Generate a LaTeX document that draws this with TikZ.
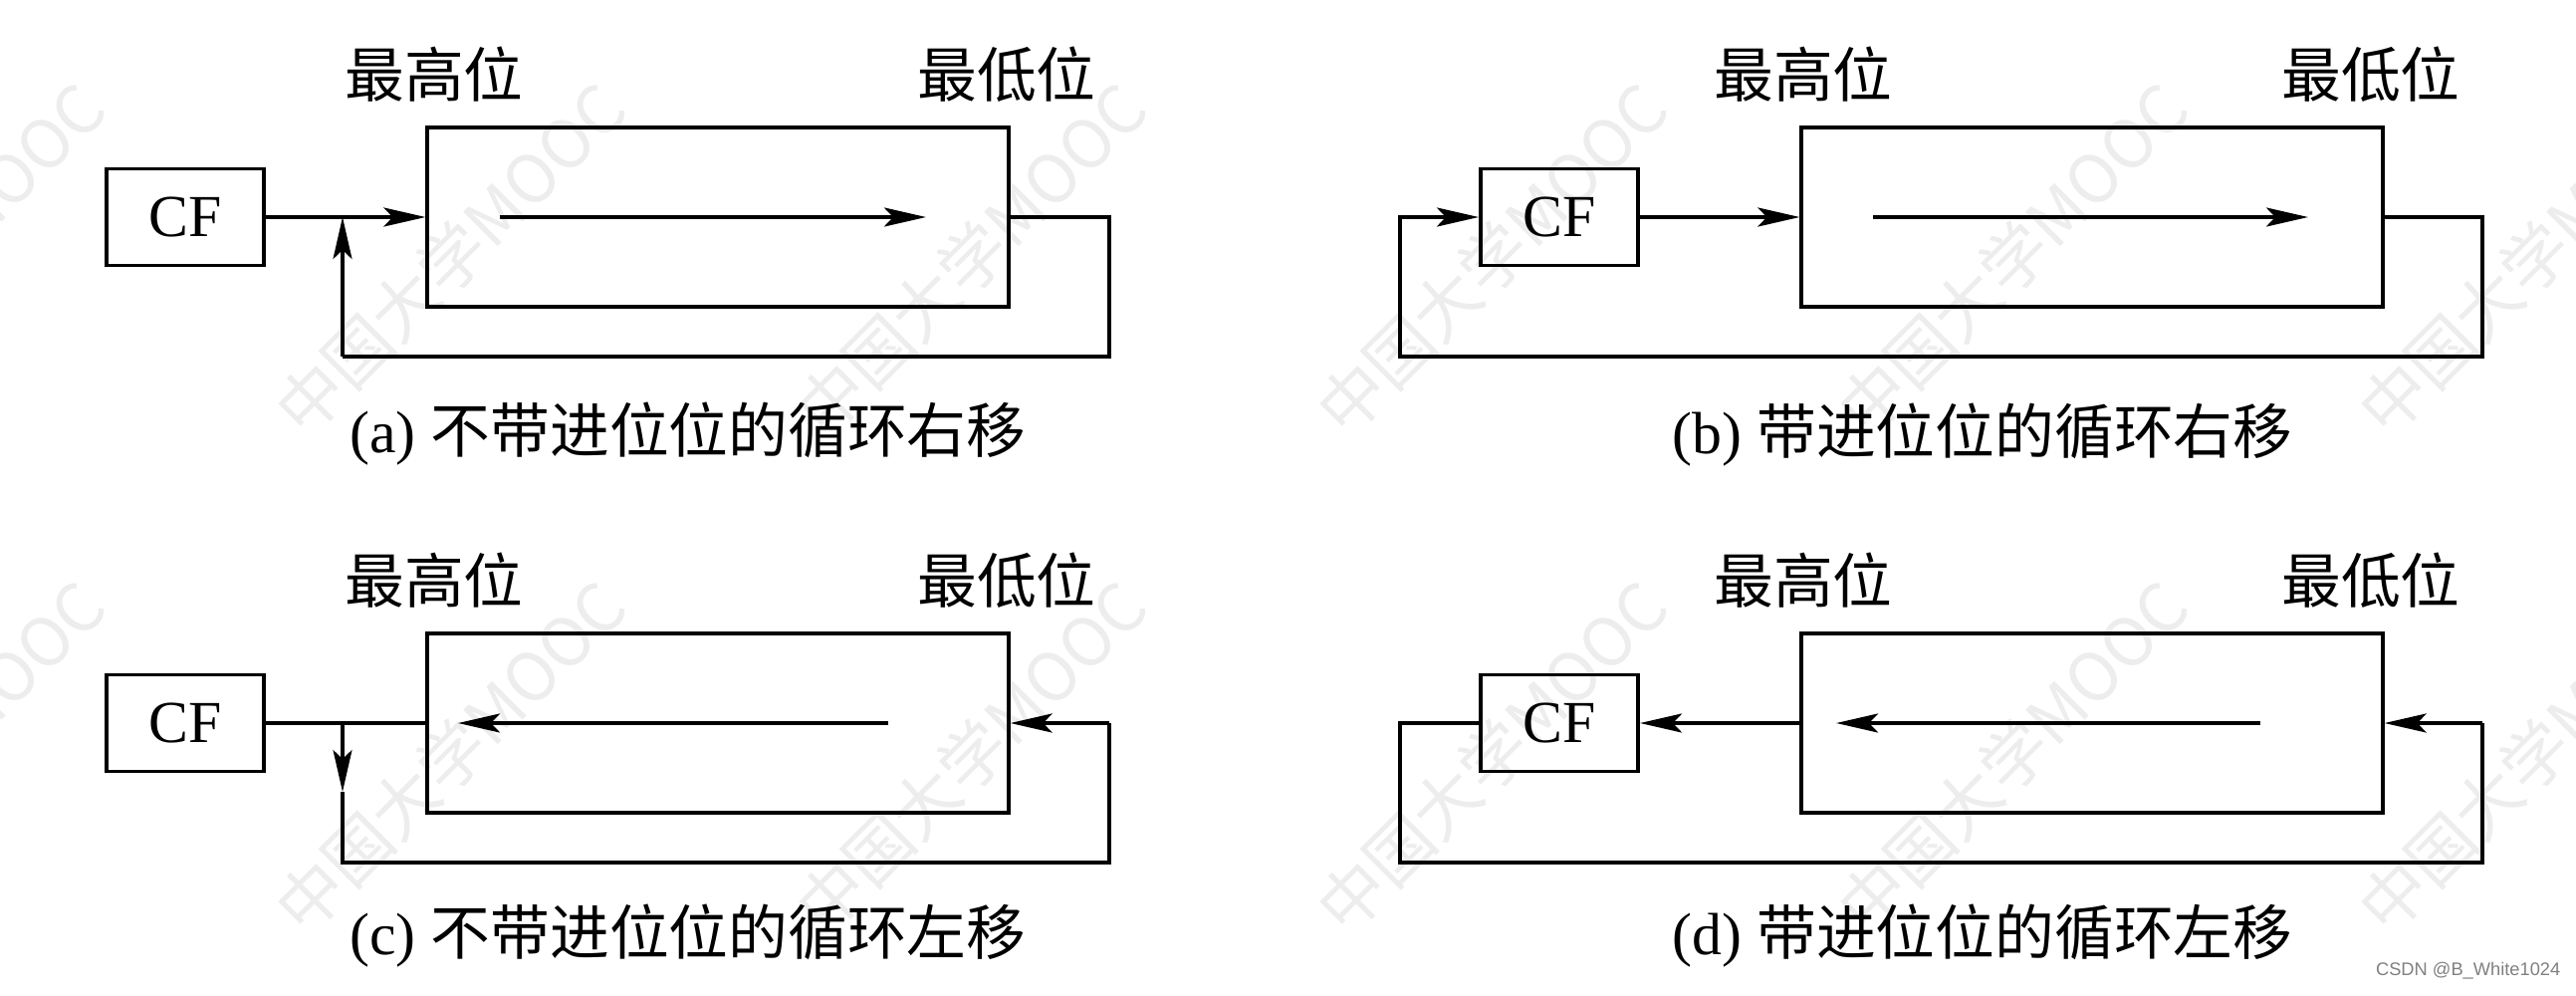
\documentclass[tikz,border=0pt]{standalone}
\usepackage{fontspec}
\setmainfont{Liberation Serif}
\newfontfamily\cjk{Noto Sans CJK SC}
\newfontfamily\csdnfont{Liberation Sans}
\usetikzlibrary{arrows.meta}
\tikzset{
  cfbox/.style={draw, line width=1.1pt, minimum width=1.58cm, minimum height=0.97cm, inner sep=0pt,
    font=\fontsize{17pt}{17pt}\selectfont},
  regbox/.style={draw, line width=1.1pt, minimum width=5.83cm, minimum height=1.80cm, inner sep=0pt},
  lab/.style={inner sep=0pt, font=\cjk\fontsize{17pt}{17pt}\selectfont},
  captext/.style={inner sep=0pt, font=\fontsize{17pt}{17pt}\selectfont},
  conn/.style={line width=1.1pt},
  thinconn/.style={line width=0.9pt},
  arr/.style={-{Stealth[length=0.42cm,width=0.19cm,inset=0.09cm]}},
  wm/.style={inner sep=0pt, rotate=45, text=black!7, font=\cjk\fontsize{19pt}{19pt}\selectfont},
  csdn/.style={inner sep=0pt, text=black!50, font=\csdnfont\fontsize{5.2pt}{5.2pt}\selectfont}
}
\begin{document}
\begin{tikzpicture}[x=0.01cm, y=-0.01cm]
\useasboundingbox (0,0) rectangle (2587,1000);
\fill[white] (0,0) rectangle (2587,1000);
% watermarks
\foreach \wx [count=\i] in {-71,452,975,1498,2021,2544}
  \foreach \wy [count=\j] in {260,760}
    \node[wm] (wm\i\j) at (\wx,\wy) {中国大学MOOC};

% ---------- (a) ----------
\node[cfbox] (cfA) at (186,218) {CF};
\node[regbox] (regA) at (721,218) {};
\node[lab] (hiA) at (436,75) {最高位};
\node[lab] (loA) at (1011,75) {最低位};
\coordinate (jA) at (344,218);
\coordinate (rA1) at (1114,218);
\coordinate (rA2) at (1114,358);
\coordinate (bA) at (344,358);
\coordinate (iA1) at (502,218);
\coordinate (iA2) at (930,218);
\draw[conn,arr] (cfA.east) -- (regA.west);
\draw[conn] (regA.east) -- (rA1) -- (rA2) -- (bA);
\draw[thinconn,arr] (bA) -- (jA);
\draw[conn,arr] (iA1) -- (iA2);
\node[captext] (capA) at (691,436) {(a) {\cjk 不带进位位的循环右移}};

% ---------- (b) ----------
\node[cfbox] (cfB) at (1566,218) {CF};
\node[regbox] (regB) at (2101,218) {};
\node[lab] (hiB) at (1811,75) {最高位};
\node[lab] (loB) at (2381,75) {最低位};
\coordinate (rB1) at (2493,218);
\coordinate (rB2) at (2493,358);
\coordinate (lB2) at (1406,358);
\coordinate (lB1) at (1406,218);
\coordinate (iB1) at (1881,218);
\coordinate (iB2) at (2318,218);
\draw[conn,arr] (cfB.east) -- (regB.west);
\draw[conn,arr] (regB.east) -- (rB1) -- (rB2) -- (lB2) -- (lB1) -- (cfB.west);
\draw[conn,arr] (iB1) -- (iB2);
\node[captext] (capB) at (1991,437) {(b) {\cjk 带进位位的循环右移}};

% ---------- (c) ----------
\node[cfbox] (cfC) at (186,726) {CF};
\node[regbox] (regC) at (721,726) {};
\node[lab] (hiC) at (436,583) {最高位};
\node[lab] (loC) at (1011,583) {最低位};
\coordinate (jC) at (344,726);
\coordinate (tC) at (344,795);
\coordinate (bC) at (344,866);
\coordinate (rC2) at (1114,866);
\coordinate (rC1) at (1114,726);
\coordinate (iC1) at (892,726);
\coordinate (iC2) at (460,726);
\draw[conn] (cfC.east) -- (regC.west);
\draw[thinconn,arr] (jC) -- (tC);
\draw[conn] (tC) -- (bC) -- (rC2) -- (rC1);
\draw[conn,arr] (rC1) -- (regC.east);
\draw[conn,arr] (iC1) -- (iC2);
\node[captext] (capC) at (691,940) {(c) {\cjk 不带进位位的循环左移}};

% ---------- (d) ----------
\node[cfbox] (cfD) at (1566,726) {CF};
\node[regbox] (regD) at (2101,726) {};
\node[lab] (hiD) at (1811,583) {最高位};
\node[lab] (loD) at (2381,583) {最低位};
\coordinate (rD1) at (2493,726);
\coordinate (rD2) at (2493,866);
\coordinate (lD2) at (1406,866);
\coordinate (lD1) at (1406,726);
\coordinate (iD1) at (2270,726);
\coordinate (iD2) at (1844,726);
\draw[conn,arr] (regD.west) -- (cfD.east);
\draw[conn,arr] (rD1) -- (regD.east);
\draw[conn] (rD1) -- (rD2) -- (lD2) -- (lD1) -- (cfD.west);
\draw[conn,arr] (iD1) -- (iD2);
\node[captext] (capD) at (1991,940) {(d) {\cjk 带进位位的循环左移}};

\node[csdn, anchor=east] (csdnA) at (2572,975) {CSDN @B\_White1024};
\end{tikzpicture}
\end{document}
